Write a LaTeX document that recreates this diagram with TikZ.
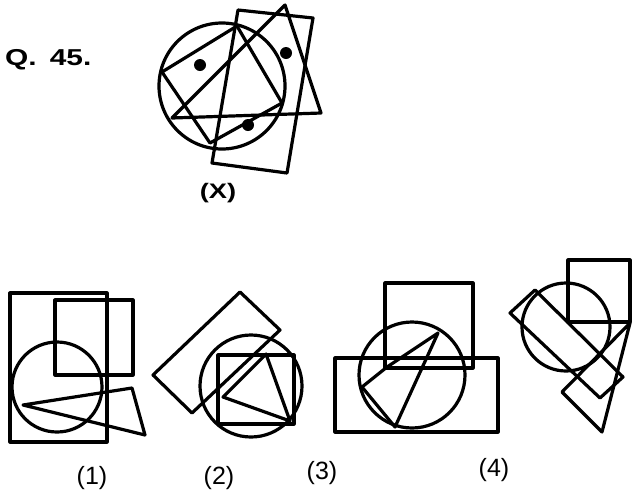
\documentclass[tikz,border=0pt]{standalone}
\usepackage{fontspec}
\setmainfont{Liberation Sans}
\begin{document}
\begin{tikzpicture}[x=1pt,y=-1pt,
  fig/.style={line width=3.2pt, line join=round, line cap=round},
  blob/.style={fill=black},
  qlabel/.style={font=\bfseries\fontsize{23}{23}\selectfont, inner sep=0pt},
  xlabel/.style={font=\bfseries\fontsize{21}{21}\selectfont, inner sep=0pt},
  olabel/.style={font=\fontsize{25}{25}\selectfont, inner sep=0pt}]
\useasboundingbox (0,0) rectangle (639,496);
\fill[white] (0,0) rectangle (639,496);

% ---------- Question figure (X)
\draw[fig] (222,86) circle [radius=63];
\draw[fig] (238,10) -- (313,18) -- (287,173) -- (212,163) -- cycle;
\draw[fig] (285,5) -- (321,113) -- (172,118) -- cycle;
\draw[fig] (162,72) -- (237,26) -- (282,103) -- (210,143) -- cycle;
\fill[blob] (200,65) circle [radius=6];
\fill[blob] (286,53) circle [radius=6];
\fill[blob] (248,125) circle [radius=6];

\node[qlabel, anchor=base west] (q) at (5,65) {\scalebox{1.3}[1]{Q.\hspace{10pt}45.}};
\node[xlabel] (xl) at (218,193) {\scalebox{1.3}[1]{(X)}};

% ---------- Option (1)
\draw[fig] (10,293) rectangle (107,442);
\draw[fig] (55,300) rectangle (133,375);
\draw[fig] (57,387) circle [radius=45];
\draw[fig] (23,405) -- (132,388) -- (145,435) -- cycle;

% ---------- Option (2)
\draw[fig] (240,292) -- (280,330) -- (192,413) -- (153,375) -- cycle;
\draw[fig] (251,386) circle [radius=51];
\draw[fig] (218,355) rectangle (294,424);
\draw[fig] (266,354) -- (223,397) -- (290,421) -- cycle;

% ---------- Option (3)
\draw[fig] (385,283) rectangle (473,368);
\draw[fig] (335,358) rectangle (498,432);
\draw[fig] (412,375) circle [radius=53];
\draw[fig] (387,367) -- (438,333) -- (395,427) -- (362,387) -- cycle;

% ---------- Option (4)
\draw[fig] (568,260) rectangle (630,322);
\draw[fig] (566,327) circle [radius=44];
\draw[fig] (510,313) -- (535,290) -- (623,377) -- (600,398) -- cycle;
\draw[fig] (630,323) -- (602,432) -- (562,392) -- cycle;

% ---------- Option labels
\node[olabel] (l1) at (92,478) {(1)};
\node[olabel] (l2) at (219,478) {(2)};
\node[olabel] (l3) at (322,473) {(3)};
\node[olabel] (l4) at (494,470) {(4)};
\end{tikzpicture}
\end{document}
